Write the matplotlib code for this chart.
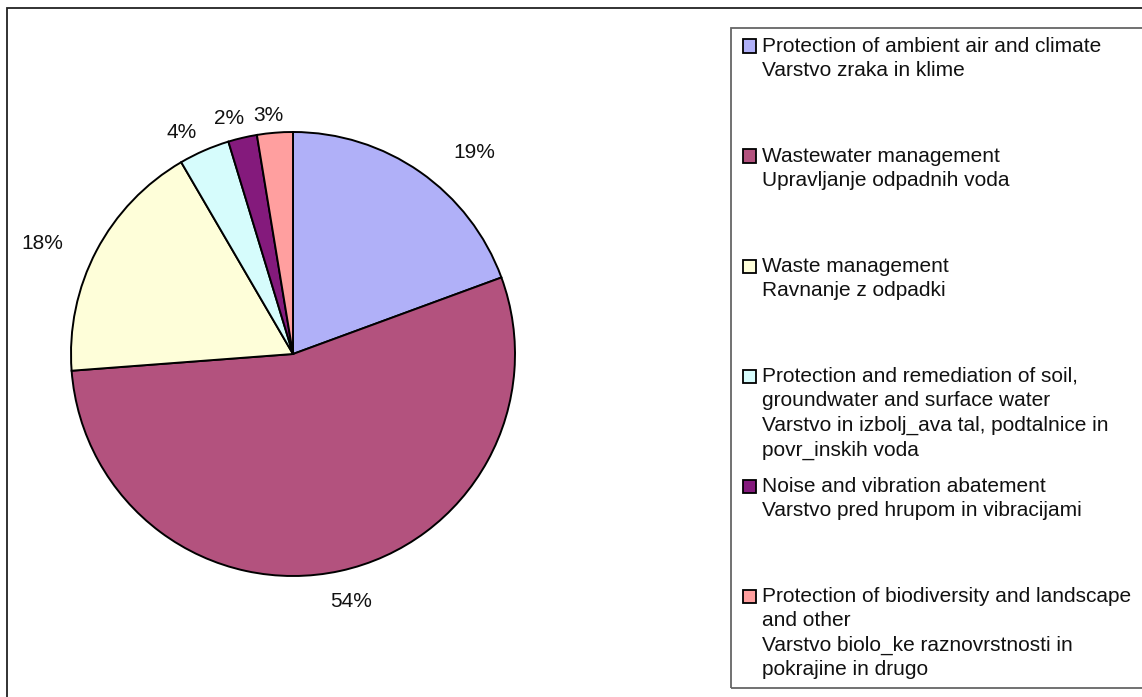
import matplotlib.pyplot as plt
import numpy as np
from matplotlib.patches import Rectangle

plt.rcParams['font.family'] = ['Liberation Sans', 'DejaVu Sans']

# shares of environmental protection expenditure (%)
shares = [19.4, 54.4, 17.8, 3.7, 2.1, 2.6]
colors = ['#B0B0F8', '#B3527E', '#FEFED9', '#D6FCFC', '#841A7C', '#FF9F9F']
legend_labels = [
    'Protection of ambient air and climate\nVarstvo zraka in klime',
    'Wastewater management\nUpravljanje odpadnih voda',
    'Waste management\nRavnanje z odpadki',
    'Protection and remediation of soil,\ngroundwater and surface water\n'
    'Varstvo in izbolj_ava tal, podtalnice in\npovr_inskih voda',
    'Noise and vibration abatement\nVarstvo pred hrupom in vibracijami',
    'Protection of biodiversity and landscape\nand other\n'
    'Varstvo biolo_ke raznovrstnosti in\npokrajine in drugo',
]

W, H = 1142, 697
fig = plt.figure(figsize=(W / 100, H / 100), dpi=100)

# outer chart frame (cut off at right and bottom)
fig.patches.append(Rectangle((7 / W, -0.1), 1.2, 1 - 8 / H + 0.1, transform=fig.transFigure,
                             fill=False, ec='#222222', lw=1.3))

cx, cy, r = 293, H - 354, 222
ax = fig.add_axes([(cx - r) / W, (cy - r) / H, 2 * r / W, 2 * r / H])
wedges, texts, autotexts = ax.pie(shares, colors=colors, startangle=90, counterclock=False,
                                  autopct='%.0f%%', pctdistance=1.13,
                                  wedgeprops=dict(edgecolor='black', linewidth=1.4),
                                  textprops=dict(fontsize=15, color='#111111'))
ax.set_xlim(-1, 1)
ax.set_ylim(-1, 1)
ax.set_aspect('equal')

# nudge labels like the original (Excel outside-end placement)
nudges = [(0.17, -0.02), (0.02, -0.01), (-0.13, -0.03), (-0.05, -0.04), (-0.03, -0.04), (-0.02, -0.05)]
for t, (dx, dy) in zip(autotexts, nudges):
    x, y = t.get_position()
    t.set_position((x + dx, y + dy))

# legend box
fig.patches.append(Rectangle((731 / W, 1 - 688 / H), 0.5, (688 - 28) / H, transform=fig.transFigure,
                             fill=False, ec='#666666', lw=1.3))
for i, (lab, col) in enumerate(zip(legend_labels, colors)):
    y = 46 + 110 * i
    fig.patches.append(Rectangle((743 / W, 1 - (y + 6.5) / H), 13 / W, 13 / H, transform=fig.transFigure,
                                 fc=col, ec='black', lw=1.3))
    fig.text(762 / W, 1 - (y - 9) / H, lab, fontsize=15, va='top', ha='left',
             linespacing=1.36, color='#111111')

fig.savefig('out.png', dpi=100)
